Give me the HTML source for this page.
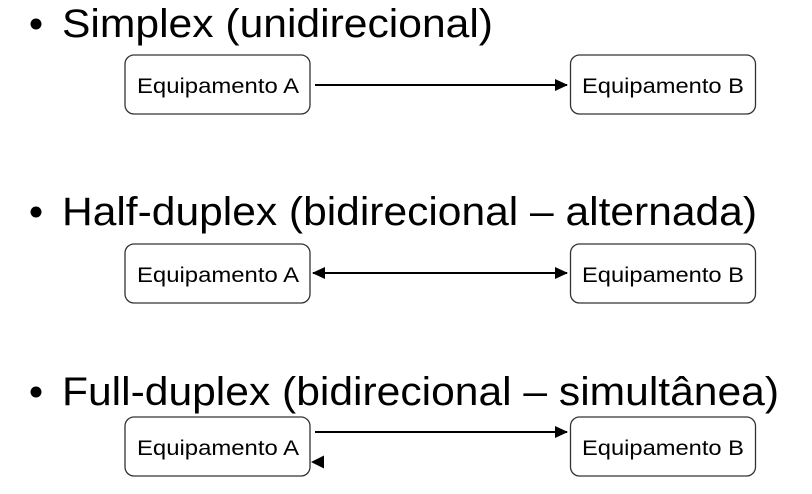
<!DOCTYPE html>
<html><head><style>body{margin:0;background:#fff}</style></head><body>
<svg width="812" height="489" xmlns="http://www.w3.org/2000/svg" font-family="Liberation Sans, Arial, sans-serif">
<defs>
<marker id="ah" markerWidth="13" markerHeight="12" refX="12" refY="6" orient="auto" markerUnits="userSpaceOnUse"><path d="M0,0 L13,6 L0,12 z" fill="#000"/></marker>
<marker id="as" markerWidth="13" markerHeight="12" refX="1" refY="6" orient="auto" markerUnits="userSpaceOnUse"><path d="M13,0 L0,6 L13,12 z" fill="#000"/></marker>
</defs>
<g font-size="40" fill="#000">
<circle cx="36" cy="24" r="5.5"/>
<text x="62" y="37" textLength="431" lengthAdjust="spacingAndGlyphs">Simplex (unidirecional)</text>
<circle cx="36" cy="212" r="5.5"/>
<text x="62" y="225" textLength="695" lengthAdjust="spacingAndGlyphs">Half-duplex (bidirecional – alternada)</text>
<circle cx="36" cy="392" r="5.5"/>
<text x="62" y="405" textLength="717" lengthAdjust="spacingAndGlyphs">Full-duplex (bidirecional – simultânea)</text>
</g>
<g fill="#fff" stroke="#333" stroke-width="1.3">
<rect x="125" y="55" width="185" height="59" rx="9"/>
<rect x="570.5" y="55" width="185" height="59" rx="9"/>
<rect x="125" y="244" width="185" height="59" rx="9"/>
<rect x="570.5" y="244" width="185" height="59" rx="9"/>
<rect x="125" y="417" width="185" height="59" rx="9"/>
<rect x="570.5" y="417" width="185" height="59" rx="9"/>
</g>
<g font-size="21" fill="#000">
<text x="137" y="93" textLength="162" lengthAdjust="spacingAndGlyphs">Equipamento A</text>
<text x="582" y="93" textLength="162" lengthAdjust="spacingAndGlyphs">Equipamento B</text>
<text x="137" y="282" textLength="162" lengthAdjust="spacingAndGlyphs">Equipamento A</text>
<text x="582" y="282" textLength="162" lengthAdjust="spacingAndGlyphs">Equipamento B</text>
<text x="137" y="455" textLength="162" lengthAdjust="spacingAndGlyphs">Equipamento A</text>
<text x="582" y="455" textLength="162" lengthAdjust="spacingAndGlyphs">Equipamento B</text>
</g>
<g stroke="#000" stroke-width="2">
<line x1="315" y1="85" x2="567" y2="85" marker-end="url(#ah)"/>
<line x1="313" y1="273" x2="567" y2="273" marker-end="url(#ah)" marker-start="url(#as)"/>
<line x1="315" y1="432" x2="567" y2="432" marker-end="url(#ah)"/>
</g>
<path d="M311,462 L324,455.5 L324,468.5 z" fill="#000"/>
</svg>
</body></html>
